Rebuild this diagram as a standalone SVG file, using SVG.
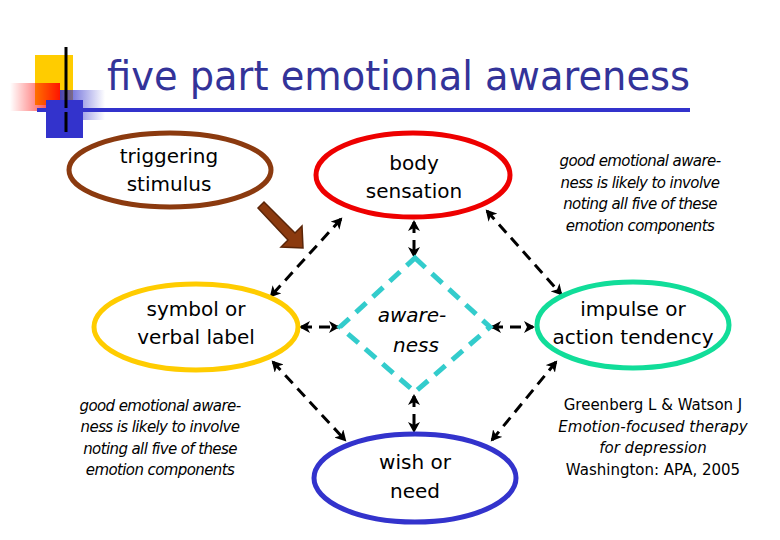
<svg xmlns="http://www.w3.org/2000/svg" width="780" height="540" viewBox="0 0 780 540">
<defs>
<marker id="ah" markerWidth="12" markerHeight="12" refX="9" refY="6" orient="auto-start-reverse" markerUnits="userSpaceOnUse"><path d="M0,0 L11,6 L0,12 L3,6 Z" fill="#000"/></marker>
<linearGradient id="rg" x1="1" y1="0" x2="0" y2="0"><stop offset="0" stop-color="#f00" stop-opacity="0.9"/><stop offset="1" stop-color="#f00" stop-opacity="0"/></linearGradient>
<linearGradient id="bg" x1="0" y1="0" x2="1" y2="0"><stop offset="0" stop-color="#33c" stop-opacity="0.9"/><stop offset="1" stop-color="#33c" stop-opacity="0"/></linearGradient>
</defs>
<style>
text{font-family:"DejaVu Sans","Liberation Sans",sans-serif;fill:#000}
.n{font-size:20px}
.i{font-size:15px;font-style:italic}
.c{stroke:#000;stroke-width:3;stroke-dasharray:11,7;marker-start:url(#ah);marker-end:url(#ah);fill:none}
.e{fill:#fff;stroke-width:5}
</style>
<rect width="780" height="540" fill="#fff"/>
<g id="deco">
<rect x="35" y="55" width="38" height="50" fill="#fc0"/>
<rect x="10" y="83" width="50" height="28" fill="url(#rg)"/>
<rect x="60" y="90" width="45" height="30" fill="url(#bg)"/>
<rect x="46" y="100" width="37" height="38" fill="#33c"/>
<line x1="66" y1="47" x2="66" y2="132" stroke="#000" stroke-width="3"/>
<line x1="37" y1="110" x2="690" y2="110" stroke="#33c" stroke-width="4"/>
</g>
<text x="107" y="90" font-size="40" textLength="583" lengthAdjust="spacingAndGlyphs" style="fill:#333399">five part emotional awareness</text>
<g id="connectors">
<line class="c" x1="341" y1="219" x2="271" y2="296"/>
<line class="c" x1="487" y1="211" x2="561" y2="294"/>
<line class="c" x1="414" y1="222" x2="414" y2="256"/>
<line class="c" x1="301" y1="327" x2="338" y2="327"/>
<line class="c" x1="492" y1="327" x2="533" y2="327"/>
<line class="c" x1="414" y1="396" x2="414" y2="431"/>
<line class="c" x1="273" y1="362" x2="345" y2="440"/>
<line class="c" x1="556" y1="362" x2="492" y2="440"/>
<path d="M258,208 L264,202 L295,233 L302,226 L303,248 L281,247 L288,240 Z" fill="#8b3a0f" stroke="#5a2508" stroke-width="1.5"/>
</g>
<g id="triggering"><ellipse class="e" cx="170" cy="170" rx="101" ry="37" stroke="#8b3a0f"/><text class="n" x="169" y="163" text-anchor="middle">triggering</text><text class="n" x="169" y="191" text-anchor="middle">stimulus</text></g>
<g id="body"><ellipse class="e" cx="413" cy="175" rx="97" ry="42" stroke="#e00"/><text class="n" x="414" y="170" text-anchor="middle">body</text><text class="n" x="414" y="198" text-anchor="middle">sensation</text></g>
<g id="symbol"><ellipse class="e" cx="196" cy="327" rx="102" ry="43" stroke="#fc0"/><text class="n" x="196" y="316" text-anchor="middle">symbol or</text><text class="n" x="196" y="344" text-anchor="middle">verbal label</text></g>
<g id="impulse"><ellipse class="e" cx="633" cy="325" rx="96" ry="43" stroke="#1d9"/><text class="n" x="633" y="316" text-anchor="middle">impulse or</text><text class="n" x="633" y="344" text-anchor="middle">action tendency</text></g>
<g id="wish"><ellipse class="e" cx="415" cy="478" rx="101" ry="44" stroke="#33c"/><text class="n" x="415" y="469" text-anchor="middle">wish or</text><text class="n" x="415" y="498" text-anchor="middle">need</text></g>
<g id="awareness"><path d="M415,258 L490,327 L415,392 L340,327 Z" fill="#fff" stroke="#3cc" stroke-width="5" stroke-dasharray="14,9"/><text class="n" x="412" y="322" text-anchor="middle" font-style="italic">aware-</text><text class="n" x="416" y="352" text-anchor="middle" font-style="italic">ness</text></g>
<g id="note1"><text class="i" x="640" y="166" text-anchor="middle" letter-spacing="-0.6">good emotional aware-</text><text class="i" x="640" y="188" text-anchor="middle" letter-spacing="-0.6">ness is likely to involve</text><text class="i" x="640" y="209" text-anchor="middle" letter-spacing="-0.6">noting all five of these</text><text class="i" x="640" y="231" text-anchor="middle" letter-spacing="-0.6">emotion components</text></g>
<g id="note2"><text class="i" x="160" y="411" text-anchor="middle" letter-spacing="-0.6">good emotional aware-</text><text class="i" x="160" y="432" text-anchor="middle" letter-spacing="-0.6">ness is likely to involve</text><text class="i" x="160" y="454" text-anchor="middle" letter-spacing="-0.6">noting all five of these</text><text class="i" x="160" y="475" text-anchor="middle" letter-spacing="-0.6">emotion components</text></g>
<g id="ref"><text x="653" y="410" font-size="15" text-anchor="middle">Greenberg L &amp; Watson J</text><text class="i" x="653" y="432" text-anchor="middle">Emotion-focused therapy</text><text class="i" x="653" y="453" text-anchor="middle">for depression</text><text x="653" y="475" font-size="15" text-anchor="middle">Washington: APA, 2005</text></g>
</svg>
